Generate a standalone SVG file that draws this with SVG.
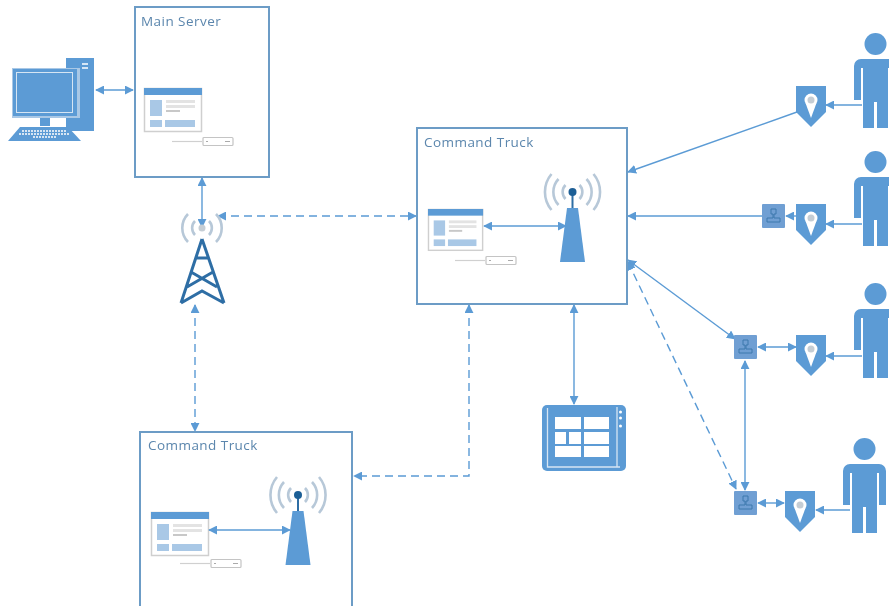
<svg xmlns="http://www.w3.org/2000/svg" width="889" height="606" viewBox="0 0 889 606">
<style>
.box{fill:#fff;stroke:#6c9cc6;stroke-width:2}
.lbl{font-family:"Open Sans","Liberation Sans",sans-serif;font-size:13.5px;letter-spacing:.45px;fill:#5b86ad}
.c{fill:none;stroke:#5b9bd5;stroke-width:1.4}
.d{stroke-dasharray:8 5}
.b{fill:#5b9bd5}
.arc{fill:none;stroke:#b7c8d8;stroke-width:2.6}
.g{fill:#e3e3e3}
.m{fill:#a9c8e6}
</style>
<defs>
<filter id="soft" x="-5%" y="-5%" width="110%" height="110%"><feGaussianBlur stdDeviation="0.6"/></filter>
<marker id="a" viewBox="0 0 10 10" refX="9" refY="5" markerWidth="9" markerHeight="9" markerUnits="userSpaceOnUse" orient="auto-start-reverse"><path d="M0 0L10 5L0 10Z" fill="#5b9bd5"/></marker>
<g id="win">
<rect x="0.5" y="0.5" width="57" height="43" fill="#fff" stroke="#cfcfcf" stroke-width="1.500"/>
<rect x="0" y="0" width="58" height="7" fill="#5b9bd5"/>
<rect x="6" y="12" width="12" height="16" class="m"/>
<rect x="22" y="12" width="29" height="3" class="g"/><rect x="22" y="17" width="29" height="3" class="g"/><rect x="22" y="22" width="14" height="2" fill="#c8c8c8"/>
<rect x="6" y="32" width="12" height="7" class="m"/><rect x="21" y="32" width="30" height="7" class="m"/>
</g>
<g id="dev">
<path d="M0 4.500H30" stroke="#d0d0d0" stroke-width="1.200"/>
<rect x="31" y="0.500" width="30" height="8" rx="1" fill="#fff" stroke="#c4c4c4" stroke-width="1.200"/>
<path d="M34 4.500h2M53 4.500h5" stroke="#aaa"/>
</g>
<g id="ant">
<path class="arc" d="M-7 -7A10 10 0 0 0 -7 7M7 -7A10 10 0 0 1 7 7M-14 -13A19 19 0 0 0 -14 13M14 -13A19 19 0 0 1 14 13M-21 -18A28 28 0 0 0 -21 18M21 -18A28 28 0 0 1 21 18"/>
<path d="M0 0V17" stroke="#2f6ea5" stroke-width="2"/>
<circle r="4" fill="#1f5f96"/>
<path class="b" d="M-5.500 16H5.500L12.500 70H-12.500Z"/>
</g>
<g id="shield">
<path class="b" d="M0 0H30V26L15 41L0 26Z"/>
<circle cx="15" cy="14" r="6.500" fill="#fff"/>
<path d="M9.500 17L15 32L20.500 17Z" fill="#fff"/>
<circle cx="15" cy="14" r="3.500" fill="#c5cdd4"/>
</g>
<g id="person">
<circle cx="21.500" cy="-15" r="11" class="b"/>
<path class="b" d="M7 0H36A7 7 0 0 1 43 7V41H36V9H34V69H23V43H20V69H9V9H7V41H0V7A7 7 0 0 1 7 0Z"/>
</g>
<g id="sw">
<rect width="23" height="24" rx="1" fill="#6f9fd3"/>
<path d="M9 5h5v5h-2v4h6v4H5v-4h6v-4H9Z" fill="none" stroke="#3f78ad"/>
</g>
</defs>
<g filter="url(#soft)">
<rect width="889" height="606" fill="#fff"/>
<g id="connectors">
<path class="c" marker-start="url(#a)" marker-end="url(#a)" d="M96 90H133"/>
<path class="c" marker-start="url(#a)" marker-end="url(#a)" d="M202 178V227"/>
<path class="c d" marker-start="url(#a)" marker-end="url(#a)" d="M218 216H416"/>
<path class="c d" marker-start="url(#a)" marker-end="url(#a)" d="M195 305V431"/>
<path class="c d" marker-start="url(#a)" marker-end="url(#a)" d="M469 305V476H354"/>
<path class="c" marker-start="url(#a)" marker-end="url(#a)" d="M574 305V404"/>
<path class="c" marker-end="url(#a)" d="M797 112L628 172"/>
<path class="c" marker-end="url(#a)" d="M862 105H826"/>
<path class="c" marker-end="url(#a)" d="M762 216H628"/>
<path class="c" marker-end="url(#a)" d="M796 216H786"/>
<path class="c" marker-end="url(#a)" d="M862 224H826"/>
<path class="c" marker-start="url(#a)" marker-end="url(#a)" d="M628 260L735 339"/>
<path class="c d" marker-start="url(#a)" marker-end="url(#a)" d="M628 262L736 489"/>
<path class="c" marker-start="url(#a)" marker-end="url(#a)" d="M758 347H796"/>
<path class="c" marker-end="url(#a)" d="M862 356H826"/>
<path class="c" marker-start="url(#a)" marker-end="url(#a)" d="M745 361V490"/>
<path class="c" marker-start="url(#a)" marker-end="url(#a)" d="M758 503H784"/>
<path class="c" marker-end="url(#a)" d="M850 510H816"/>
</g>
<g id="main-server">
<rect class="box" x="135" y="7" width="134" height="170"/>
<text class="lbl" x="141" y="26">Main Server</text>
<use href="#win" x="144" y="88"/>
<use href="#dev" x="172" y="137"/>
</g>
<g id="pc">
<rect class="b" x="66" y="58" width="28" height="73"/>
<path d="M82 64h6M82 68h6" stroke="#fff" stroke-width="1.500"/>
<rect x="12" y="68" width="68" height="50" fill="#a9c8e6"/>
<rect x="13" y="69" width="64" height="47" class="b"/>
<rect x="16" y="72" width="57" height="41" fill="#d6e5f3"/>
<rect x="17" y="73" width="55" height="39" class="b"/>
<path d="M50 118H66V126H50Z" fill="#fff"/>
<rect class="b" x="40" y="118" width="10" height="8"/>
<path class="b" d="M20 127H68L81 141H8Z"/>
<path d="M22 131H66M19 134H69M33 137H56" stroke="#d6e5f3" stroke-width="1.800" stroke-dasharray="2 1"/>
</g>
<g id="truck-1">
<rect class="box" x="417" y="128" width="210" height="176"/>
<text class="lbl" x="424" y="147">Command Truck</text>
<use href="#win" transform="translate(428 209) scale(0.95)"/>
<use href="#dev" x="455" y="256"/>
<use href="#ant" x="572.500" y="192"/>
<path class="c" marker-start="url(#a)" marker-end="url(#a)" d="M484 226H566"/>
</g>
<g id="truck-2">
<path class="box" d="M140 606V432H352V606"/>
<text class="lbl" x="148" y="450">Command Truck</text>
<use href="#win" x="151" y="512"/>
<use href="#dev" x="180" y="559"/>
<use href="#ant" x="298" y="495"/>
<path class="c" marker-start="url(#a)" marker-end="url(#a)" d="M209 530H290"/>
</g>
<g id="cell-tower">
<path class="arc" d="M-7 -7A10 10 0 0 0 -7 7M7 -7A10 10 0 0 1 7 7M-14 -14A20 20 0 0 0 -14 14M14 -14A20 20 0 0 1 14 14" transform="translate(202 228)"/>
<circle cx="202" cy="228" r="3.500" fill="#c5cdd4"/>
<path d="M202 239L181 303M202 239L224 303M196 258H208M191 272L217 287M213 272L187 287M181 303L202 291L224 303" fill="none" stroke="#2f6ea5" stroke-width="3"/>
</g>
<g id="tablet">
<rect class="b" x="542" y="405" width="84" height="66" rx="5"/>
<path d="M547.500 408V467H620M617 407V467" stroke="#d6e5f3" stroke-width="1.300" fill="none"/>
<path d="M555 417H581V429H555ZM584 417H609V429H584ZM555 432H566V444H555ZM569 432H581V444H569ZM584 432H609V444H584ZM555 446H581V457H555ZM584 446H609V457H584Z" fill="#fff"/>
<circle cx="620.500" cy="412" r="1.500" fill="#fff"/><circle cx="620.500" cy="418" r="1.500" fill="#fff"/><circle cx="620.500" cy="426" r="1.500" fill="#fff"/>
</g>
<g id="sensor-1"><use href="#shield" x="796" y="86"/></g>
<g id="sensor-2"><use href="#shield" x="796" y="204"/></g>
<g id="sensor-3"><use href="#shield" x="796" y="335"/></g>
<g id="sensor-4"><use href="#shield" x="785" y="491"/></g>
<g id="switch-2"><use href="#sw" x="762" y="204"/></g>
<g id="switch-3"><use href="#sw" x="734" y="335"/></g>
<g id="switch-4"><use href="#sw" x="734" y="491"/></g>
<g id="person-1"><use href="#person" x="854" y="59"/></g>
<g id="person-2"><use href="#person" x="854" y="177"/></g>
<g id="person-3"><use href="#person" x="854" y="309"/></g>
<g id="person-4"><use href="#person" x="843" y="464"/></g>
</g>
</svg>
